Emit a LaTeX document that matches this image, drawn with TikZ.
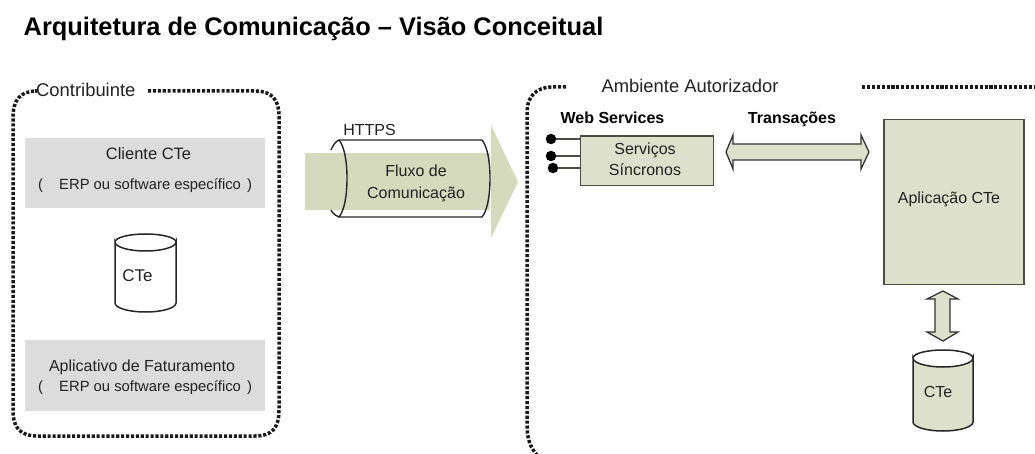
\documentclass[tikz,border=0pt]{standalone}
\usepackage{fontspec}
\setmainfont{Liberation Sans}
\definecolor{flow}{HTML}{D5DABD}
\definecolor{pale}{HTML}{DDE1CC}
\definecolor{greybox}{HTML}{DCDCDC}
\definecolor{ink}{HTML}{222222}
\definecolor{edge}{HTML}{4A4D42}
\tikzset{
 x=1pt,y=-1pt,
 lbl/.style={anchor=base,inner sep=0pt,text=ink,font=\fontsize{16}{18}\selectfont},
 biglbl/.style={anchor=base,inner sep=0pt,text=ink,font=\fontsize{18.4}{20}\selectfont},
 small/.style={anchor=base,inner sep=0pt,text=ink,font=\fontsize{14.8}{17}\selectfont},
 boldlbl/.style={anchor=base,inner sep=0pt,text=black,font=\fontsize{16}{18}\selectfont\bfseries},
 dotline/.style={line width=3.5pt,dash pattern=on 3.1pt off 1.8pt,black!90},
 panel/.style={draw=edge,line width=1.5pt,fill=pale,inner sep=0pt,anchor=north west},
 greypanel/.style={fill=greybox,inner sep=0pt,anchor=north west},
 term/.style={circle,fill=black,inner sep=0pt,minimum size=10.5pt},
 stub/.style={draw=edge,line width=1.3pt},
 twoway/.style={draw=black!80,line width=1.3pt,fill=pale,line join=miter},
 cyl/.style={draw=black!85,line width=1.5pt},
}
\begin{document}
\begin{tikzpicture}
\useasboundingbox (0,0) rectangle (1035,454);
\fill[white] (0,0) rectangle (1035,454);

\node[anchor=base,inner sep=0pt,font=\fontsize{25.4}{28}\selectfont\bfseries,text=black] (title) at (313.5,36) {Arquitetura de Comunicação – Visão Conceitual};

% left panel
\draw[dotline] (35,91) -- (37,91) .. controls (20,91) and (13,100) .. (13,118) -- (13,410) .. controls (13,428) and (20,436) .. (38,436) -- (255,436) .. controls (272,436) and (279,428) .. (279,410) -- (279,116) .. controls (279,100) and (272,91) .. (255,91) -- (147,91);
\node[biglbl,anchor=base west] (contrib) at (36,97) {Contribuinte};

\node[greypanel,minimum width=240pt,minimum height=70pt] (cli) at (25,138) {};
\node[lbl,font=\fontsize{16.5}{18}\selectfont] (clit) at (148.5,160) {Cliente CTe};
\node[small,anchor=base west] (clip1) at (38,190) {(};
\node[small,anchor=base west] (clit2) at (59,190) {ERP ou software específico};
\node[small,anchor=base west] (clip2) at (247,190) {)};

\draw[cyl,fill=white] (115,242) arc[start angle=180,end angle=0,x radius=30.5,y radius=9] -- (176,303) arc[start angle=0,end angle=180,x radius=30.5,y radius=9] -- cycle;
\draw[cyl] (115,242) arc[start angle=180,end angle=360,x radius=30.5,y radius=8];
\node[lbl,font=\fontsize{17}{18}\selectfont] (cte1) at (137.5,281) {CTe};

\node[greypanel,minimum width=240pt,minimum height=71pt] (app) at (25,340) {};
\node[lbl] (appt) at (142,371) {Aplicativo de Faturamento};
\node[small,anchor=base west] (app1) at (38,391) {(};
\node[small,anchor=base west] (appt2) at (59,391) {ERP ou software específico};
\node[small,anchor=base west] (app2) at (247,391) {)};

% flow
\fill[flow] (305,153) -- (490,153) -- (490,210) -- (305,210) -- cycle;
\fill[flow] (491,125) -- (518,182) -- (491,238) -- cycle;
\draw[black!85,line width=1.4pt] (339,140) -- (482,140) .. controls (487,146) and (490,160) .. (490,178) .. controls (490,197) and (487,211) .. (482,217) -- (339,217);
\draw[black!85,line width=1.4pt] (339,140) .. controls (344,146) and (347,160) .. (347,178) .. controls (347,197) and (344,211) .. (339,217) .. controls (336,216) and (333,214) .. (331,210);
\draw[black!85,line width=1.4pt] (339,140) .. controls (336,141) and (333,145) .. (331,150);
\node[lbl] (https) at (369.5,136) {HTTPS};
\node[lbl] (fl1) at (416,177) {Fluxo de};
\node[lbl] (fl2) at (416,199) {Comunicação};

% right panel
\draw[dotline] (566,87) -- (552,87) .. controls (536,87) and (527,97) .. (527,112) -- (527,425) .. controls (527,438) and (530,448) .. (538,456);
\draw[dotline] (862,87) -- (1035,87);
\begin{scope}
\clip (590,70) rectangle (800,92.5);
\node[biglbl,anchor=base] (amb) at (690,92.5) {Ambiente Autorizador};
\end{scope}

\node[boldlbl] (ws) at (612.5,123.5) {Web Services};
\node[boldlbl] (tr) at (792,123.5) {Transações};

\node[panel,minimum width=133pt,minimum height=49.5pt] (serv) at (579.5,135.5) {};
\node[lbl] (sv1) at (645,155) {Serviços};
\node[lbl] (sv2) at (645,176) {Síncronos};
\node[term] (d1) at (551,139) {};
\node[term] (d2) at (551,156) {};
\node[term] (d3) at (553,168) {};
\draw[stub] (d1) -- (d1 -| serv.west);
\draw[stub] (d2) -- (d2 -| serv.west);
\draw[stub] (d3) -- (d3 -| serv.west);

\draw[twoway] (726,152) -- (733,135) -- (733,144) -- (861,144) -- (861,135) -- (869,152) -- (861,169) -- (861,160) -- (733,160) -- (733,169) -- cycle;

\node[panel,minimum width=140pt,minimum height=164.5pt] (aut) at (883,119) {};
\node[lbl] (autt) at (949,204) {Aplicação CTe};

\draw[twoway] (943,291) -- (958,299) -- (950,299) -- (950,332) -- (958,332) -- (943,341) -- (927,332) -- (935,332) -- (935,299) -- (927,299) -- cycle;

\draw[cyl,fill=pale] (913,358) arc[start angle=180,end angle=0,x radius=30,y radius=9] -- (973,422) arc[start angle=0,end angle=180,x radius=30,y radius=9] -- cycle;
\draw[cyl] (913,358) arc[start angle=180,end angle=360,x radius=30,y radius=8];
\node[lbl] (cte2) at (938,397) {CTe};
\end{tikzpicture}
\end{document}
